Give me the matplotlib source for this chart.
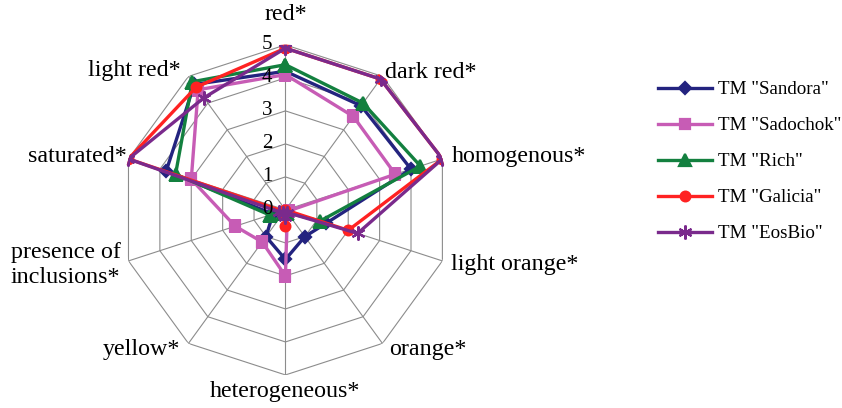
import numpy as np
import matplotlib.pyplot as plt

plt.rcParams['font.family'] = ['Liberation Serif', 'DejaVu Serif']

# axis names, clockwise from top
categories = ['red*', 'dark red*', 'homogenous*', 'light orange*', 'orange*',
              'heterogeneous*', 'yellow*', 'presence of\ninclusions*',
              'saturated*', 'light red*']

# scores
sandora = [4.2, 3.9, 4.0, 1.3, 1.0, 1.5, 1.0, 0.4, 3.8, 4.7]
sadochok = [4.1, 3.5, 3.5, 0.1, 0.1, 2.0, 1.2, 1.6, 3.0, 4.5]
rich = [4.4, 4.0, 4.3, 1.1, 0.1, 0.1, 0.1, 0.5, 3.5, 4.8]
galicia = [4.9, 4.9, 5.0, 2.0, 0.0, 0.5, 0.1, 0.1, 5.0, 4.6]
eosbio = [4.9, 4.9, 5.0, 2.3, 0.1, 0.2, 0.1, 0.2, 5.0, 4.2]

series_names = ['TM "Sandora"', 'TM "Sadochok"', 'TM "Rich"', 'TM "Galicia"', 'TM "EosBio"']
series_values = [sandora, sadochok, rich, galicia, eosbio]
colors = ['#23237f', '#c75cb5', '#13803f', '#ff2222', '#7a2a8c']
markers = ['D', 's', '^', 'o', (6, 2, 0)]
msizes = [6, 7, 9, 7, 10]

n = len(categories)
angles = np.linspace(0, 2 * np.pi, n, endpoint=False)
closed = np.append(angles, angles[0])

fig = plt.figure(figsize=(8.42, 4.08), dpi=100)
ax = fig.add_axes([0.143, 0.081, 0.392, 0.809], projection='polar')
ax.set_theta_zero_location('N')
ax.set_theta_direction(-1)
ax.set_ylim(0, 5)
ax.grid(False)
ax.spines['polar'].set_visible(False)
ax.set_xticks([])
ax.set_yticks([])

# polygon grid like Excel radar
for r in range(1, 6):
    ax.plot(closed, [r] * (n + 1), color='#8c8c8c', lw=0.8, zorder=1)
for a in angles:
    ax.plot([a, a], [0, 5], color='#8c8c8c', lw=0.8, zorder=1)

for name, vals, c, m, ms in zip(series_names, series_values, colors, markers, msizes):
    v = np.append(vals, vals[0])
    ax.plot(closed, v, color=c, lw=2.4, marker=m, markersize=ms,
            markeredgewidth=1.6, label=name, zorder=3)

# radial tick labels
for r in range(0, 6):
    ax.annotate(str(r), xy=(0, r), xytext=(-13, 0), textcoords='offset pixels',
                ha='right', va='center', fontsize=15)

# category labels: (dx, dy downwards) in pixels from the outer vertex
offsets = [(0, -30, 'center', 'center'), (3, -4, 'left', 'center'),
           (9, -2, 'left', 'center'), (9, 4, 'left', 'center'),
           (7, 6, 'left', 'center'), (0, 6, 'center', 'top'),
           (-8, 6, 'right', 'center'), (-8, 4, 'right', 'center'),
           (-2, -2, 'right', 'center'), (-8, -6, 'right', 'center')]
for a, lab, (dx, dy, ha, va) in zip(angles, categories, offsets):
    ax.annotate(lab, xy=(a, 5), xytext=(dx, -dy), textcoords='offset pixels',
                ha=ha, va=va, fontsize=17.3, linespacing=1.2)

fig.legend(loc='upper left', bbox_to_anchor=(0.772, 0.82), frameon=False,
           fontsize=13.7, handlelength=2.85, handletextpad=0.3, labelspacing=0.98,
           borderaxespad=0)

fig.savefig('out.png', dpi=100)
